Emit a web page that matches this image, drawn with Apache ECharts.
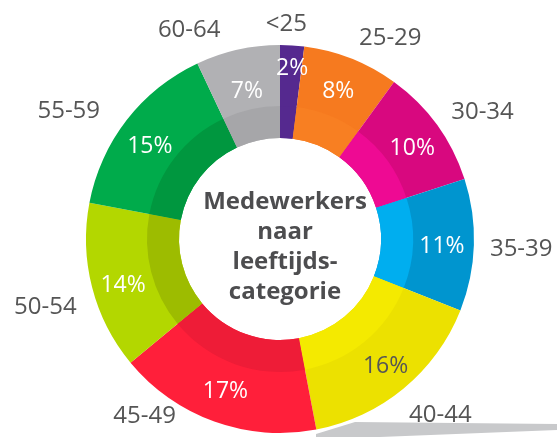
<!DOCTYPE html>
<html>
<head>
<meta charset="utf-8">
<script src="https://cdn.jsdelivr.net/npm/echarts@6/dist/echarts.min.js"></script>
<style>
  html, body { margin: 0; padding: 0; background: #fff; }
  #main { width: 557px; height: 437px; }
</style>
</head>
<body>
<div id="main"></div>
<script>
var categories = ['<25', '25-29', '30-34', '35-39', '40-44', '45-49', '50-54', '55-59', '60-64'];
var percentages = [2, 8, 10, 11, 16, 17, 14, 15, 7];

var outerColors = ['#55298f', '#f67a1f', '#d8087f', '#0095cf', '#ece100', '#ff1f3a', '#b3d700', '#00ab4b', '#b1b1b4'];
var innerColors = ['#55298f', '#f87f22', '#ee0a93', '#00aeef', '#f4ea00', '#ee1c37', '#9dbc00', '#00973f', '#a6a6a9'];

// small nudges of the label text, per category (dx, dy)
var nameNudge = [[-36, -11], [-26, -23], [2, -7], [2, 4], [-10, 19], [-26, -8], [-1, 22], [-15, -2], [-6, -10]];
var pctNudge = [[2, -10], [-1, 2], [2, 4], [1, 2], [3, 3], [0, 1], [-1, 6], [-3, 6], [2, 10]];

var myChart = echarts.init(document.getElementById('main'));

var ringData = categories.map(function (c, i) {
  return { name: c, value: percentages[i], itemStyle: { color: outerColors[i] } };
});
var bandData = categories.map(function (c, i) {
  return { name: c, value: percentages[i], itemStyle: { color: innerColors[i] } };
});
var pctData = categories.map(function (c, i) {
  return {
    name: c,
    value: percentages[i],
    label: { color: c === '40-44' ? '#555555' : '#ffffff' }
  };
});

var option = {
  animation: false,
  title: {
    text: 'Medewerkers\nnaar\nleeftijds-\ncategorie',
    left: 280,
    top: 182,
    textAlign: 'center',
    textStyle: {
      fontFamily: 'Open Sans',
      fontWeight: 'bold',
      fontSize: 24,
      lineHeight: 30,
      color: '#4d4d4f'
    }
  },
  graphic: [{
    type: 'polygon',
    z: -1,
    shape: { points: [[316, 434], [355, 422], [557, 424], [557, 430], [380, 437], [316, 437]] },
    style: { fill: '#c8c9cb' }
  }],
  series: [{
    name: 'leeftijd',
    type: 'pie',
    center: [280, 239],
    radius: [101, 194],
    startAngle: 90,
    silent: true,
    data: ringData,
    label: {
      show: true,
      position: 'outside',
      formatter: '{b}',
      overflow: 'none',
      fontFamily: 'Open Sans',
      fontSize: 24,
      color: '#555555'
    },
    labelLine: { show: false, length: 10, length2: 4 },
    labelLayout: function (params) {
      var n = nameNudge[params.dataIndex];
      return { dx: n[0], dy: n[1] };
    }
  }, {
    name: 'band',
    type: 'pie',
    center: [280, 239],
    radius: [101, 133],
    startAngle: 90,
    silent: true,
    data: bandData,
    label: { show: false },
    labelLine: { show: false }
  }, {
    name: 'percentage',
    type: 'pie',
    center: [280, 239],
    radius: [122, 194],
    startAngle: 90,
    silent: true,
    z: 5,
    data: pctData,
    itemStyle: { color: 'rgba(0,0,0,0)' },
    label: {
      show: true,
      position: 'inside',
      formatter: '{c}%',
      fontFamily: 'Open Sans',
      fontSize: 23
    },
    labelLine: { show: false },
    labelLayout: function (params) {
      var n = pctNudge[params.dataIndex];
      return { dx: n[0], dy: n[1] };
    }
  }]
};
myChart.setOption(option);
</script>
</body>
</html>
